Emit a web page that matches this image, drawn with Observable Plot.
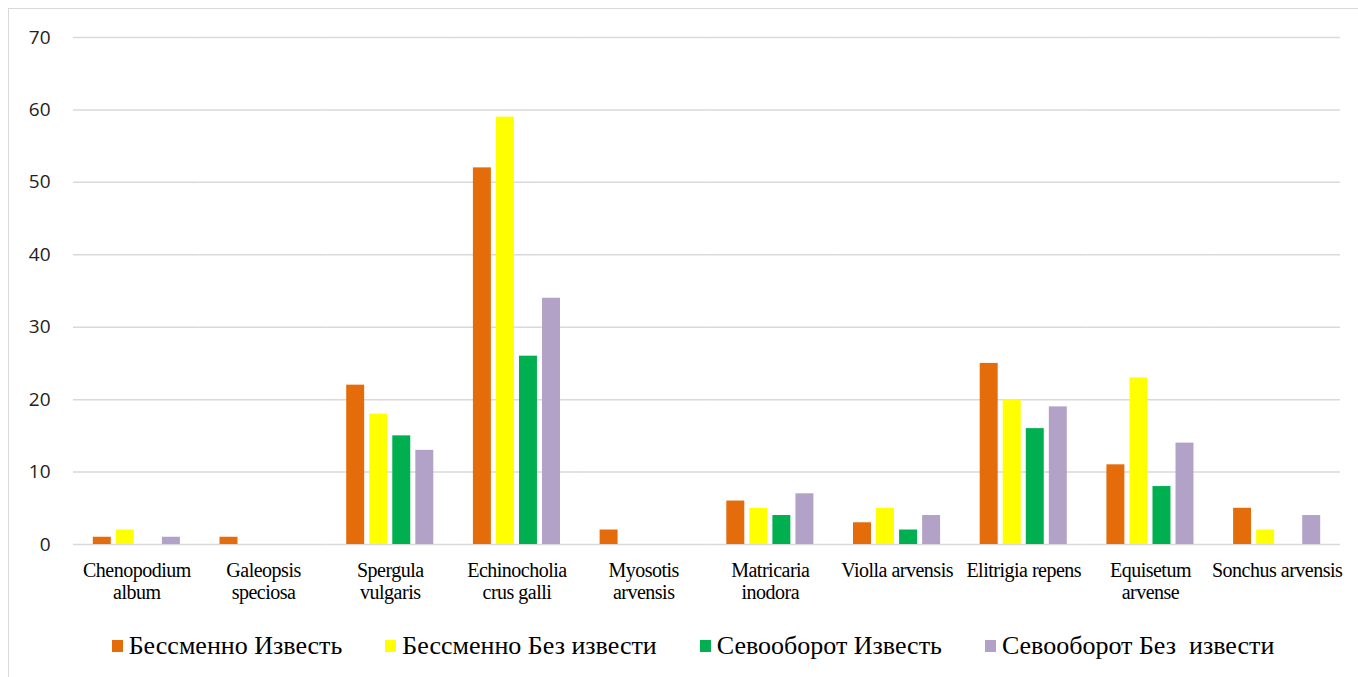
<!DOCTYPE html>
<html>
<head>
<meta charset="utf-8">
<script src="https://cdn.jsdelivr.net/npm/d3@7"></script>
<script src="https://cdn.jsdelivr.net/npm/@observablehq/plot@0.6"></script>
<style>
  body { margin: 0; background: #fff; }
  #frame {
    position: absolute; left: 8px; top: 8px; width: 1360px; height: 680px;
    border-left: 1px solid #d9d9d9; border-top: 1px solid #d9d9d9;
  }
  #chart svg { display: block; overflow: visible; }
  g[aria-label="fx-axis tick label"] { letter-spacing: -0.5px; }
  #legend {
    display: flex; justify-content: center; align-items: center;
    width: 1349px; padding-left: 19px; box-sizing: border-box;
    margin-top: 12px;
    font-family: "Liberation Serif", "Times New Roman", serif;
    font-size: 26px; color: #000;
  }
  .item { display: flex; align-items: center; margin: 0 21.5px; white-space: pre; }
  .sw { width: 11px; height: 12px; margin-right: 6px; }
</style>
</head>
<body>
<div id="frame">
  <div id="chart"></div>
  <div id="legend"></div>
</div>
<script>
// Weed species (categories) and their two-line axis labels
const categories = ["Chenopodium album", "Galeopsis speciosa", "Spergula vulgaris", "Echinocholia crus galli",
  "Myosotis arvensis", "Matricaria inodora", "Violla arvensis", "Elitrigia repens", "Equisetum arvense", "Sonchus arvensis"];
const tickLabels = ["Chenopodium\nalbum", "Galeopsis\nspeciosa", "Spergula\nvulgaris", "Echinocholia\ncrus galli",
  "Myosotis\narvensis", "Matricaria\ninodora", "Violla arvensis", "Elitrigia repens", "Equisetum\narvense", "Sonchus arvensis"];

// Treatments
const series = ["Бессменно Известь", "Бессменно Без извести", "Севооборот Известь", "Севооборот Без  извести"];
const colors = ["#E46C0A", "#FFFF00", "#00B050", "#B3A2C7"];

// Counts per species for each treatment
const bessmennoIzvest = [1, 1, 22, 52, 2, 6, 3, 25, 11, 5];
const bessmennoBez    = [2, 0, 18, 59, 0, 5, 5, 20, 23, 2];
const sevooborotIzvest = [0, 0, 15, 26, 0, 4, 2, 16, 8, 0];
const sevooborotBez    = [1, 0, 13, 34, 0, 7, 4, 19, 14, 4];

const yTicks = [0, 10, 20, 30, 40, 50, 60, 70];

const seriesValues = [bessmennoIzvest, bessmennoBez, sevooborotIzvest, sevooborotBez];
const rows = [];
categories.forEach((c, i) => {
  series.forEach((s, j) => rows.push({category: c, series: s, value: seriesValues[j][i]}));
});

const chart = Plot.plot({
  width: 1349,
  height: 610,
  marginLeft: 64,
  marginRight: 18,
  marginTop: 28,
  marginBottom: 75,
  style: {fontFamily: "'Open Sans', sans-serif", background: "#fff"},
  fx: {domain: categories, paddingInner: 0, paddingOuter: 0, round: false},
  x: {domain: series, paddingInner: 0.22, paddingOuter: 0.86, round: false, axis: null},
  y: {domain: [0, 70]},
  color: {domain: series, range: colors},
  marks: [
    Plot.ruleY(yTicks, {stroke: "#d9d9d9", strokeWidth: 1.5}),
    Plot.barY(rows, {fx: "category", x: "series", y: "value", fill: "series"}),
    Plot.axisY({
      ticks: yTicks, tickSize: 0, tickPadding: 23, label: null,
      fontSize: 19, fill: "#222", fontFamily: "'Open Sans', sans-serif"
    }),
    Plot.axisFx({
      anchor: "bottom", tickSize: 0, tickPadding: 17, label: null,
      tickFormat: (d) => tickLabels[categories.indexOf(d)],
      fontSize: 20, lineHeight: 1.1, fill: "#000",
      fontFamily: "'Liberation Serif', 'Times New Roman', serif"
    })
  ]
});
document.getElementById("chart").appendChild(chart);

// Legend
const legend = document.getElementById("legend");
series.forEach((s, j) => {
  const item = document.createElement("div");
  item.className = "item";
  const sw = document.createElement("span");
  sw.className = "sw";
  sw.style.background = colors[j];
  const label = document.createElement("span");
  label.textContent = s;
  item.appendChild(sw);
  item.appendChild(label);
  legend.appendChild(item);
});
</script>
</body>
</html>
